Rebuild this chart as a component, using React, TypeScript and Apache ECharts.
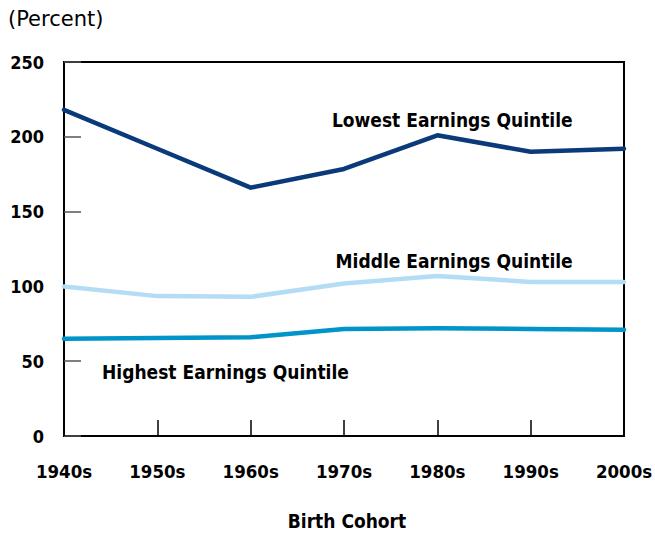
import React, { useEffect, useRef } from "react";
import * as echarts from "echarts";

const categories = ["1940s", "1950s", "1960s", "1970s", "1980s", "1990s", "2000s"];
const lowest = [218, 192, 166, 178.5, 201, 190, 192];
const middle = [100, 93.5, 93, 102, 107, 103, 103];
const highest = [65, 65.5, 66, 71.5, 72, 71.5, 71];
const yTicks = { min: 0, max: 250, interval: 50 };

const seriesNames = ["Lowest Earnings Quintile", "Middle Earnings Quintile", "Highest Earnings Quintile"];
// label anchor: [fractional category index, value]
const labelAnchors = [
  [4.16, 211],
  [4.18, 117],
  [1.73, 43],
];

const FONT = "'DejaVu Sans Condensed', 'DejaVu Sans', sans-serif";
const FONT_REG = "'DejaVu Sans', sans-serif";

export default function App() {
  const ref = useRef<HTMLDivElement>(null);
  useEffect(() => {
    if (!ref.current) return;
    const chart = echarts.init(ref.current, undefined, { renderer: "svg" });
    const lineSeries = (name: string, data: number[], color: string) => ({
      name,
      type: "line",
      data,
      symbol: "none",
      lineStyle: { color, width: 4.5, cap: "round", join: "round" },
      z: 3,
    });
    chart.setOption({
      animation: false,
      backgroundColor: "#ffffff",
      grid: {
        left: 64,
        right: 31,
        top: 62,
        bottom: 97,
        show: true,
        borderColor: "#000",
        borderWidth: 2,
        backgroundColor: "transparent",
        containLabel: false,
        outerBoundsMode: "none",
      },
      xAxis: {
        type: "category",
        data: categories,
        boundaryGap: false,
        axisLine: { lineStyle: { color: "#000", width: 2 } },
        axisTick: { inside: true, length: 16, lineStyle: { color: "#000", width: 1.5 } },
        axisLabel: {
          color: "#000",
          fontFamily: FONT,
          fontWeight: "bold",
          fontSize: 18.5,
          margin: 26,
        },
        splitLine: { show: false },
        name: "Birth Cohort",
        nameLocation: "middle",
        nameGap: 85,
        nameTextStyle: {
          color: "#000",
          fontFamily: FONT,
          fontWeight: "bold",
          fontSize: 19,
          verticalAlign: "middle",
          padding: [0, 0, 0, 6],
        },
      },
      yAxis: {
        type: "value",
        min: yTicks.min,
        max: yTicks.max,
        interval: yTicks.interval,
        axisLine: { show: true, lineStyle: { color: "#000", width: 2 } },
        axisTick: { show: true, inside: true, length: 17, lineStyle: { color: "#555", width: 1.5 } },
        axisLabel: {
          color: "#000",
          fontFamily: FONT,
          fontWeight: "bold",
          fontSize: 18,
          margin: 20,
        },
        splitLine: { show: false },
      },
      series: [
        lineSeries(seriesNames[0], lowest, "#0b3a7a"),
        lineSeries(seriesNames[1], middle, "#b5dcf5"),
        lineSeries(seriesNames[2], highest, "#0094c8"),
      ],
    });
    const graphics: any[] = [
      {
        type: "text",
        left: 8,
        top: 8,
        style: { text: "(Percent)", fill: "#000", font: `21px ${FONT_REG}` },
      },
    ];
    seriesNames.forEach((name, k) => {
      const [fi, v] = labelAnchors[k];
      const i0 = Math.floor(fi);
      const i1 = Math.min(i0 + 1, categories.length - 1);
      const p0 = chart.convertToPixel({ gridIndex: 0 }, [categories[i0], v]) as number[];
      const p1 = chart.convertToPixel({ gridIndex: 0 }, [categories[i1], v]) as number[];
      const x = p0[0] + (fi - i0) * (p1[0] - p0[0]);
      graphics.push({
        type: "text",
        x,
        y: p0[1],
        style: {
          text: name,
          fill: "#000",
          font: `bold 19px ${FONT}`,
          align: "center",
          verticalAlign: "middle",
        },
      });
    });
    chart.setOption({ graphic: graphics });
    return () => chart.dispose();
  }, []);
  return (
    <div
      ref={ref}
      style={{ position: "fixed", left: 0, top: 0, width: 655, height: 533 }}
    />
  );
}
